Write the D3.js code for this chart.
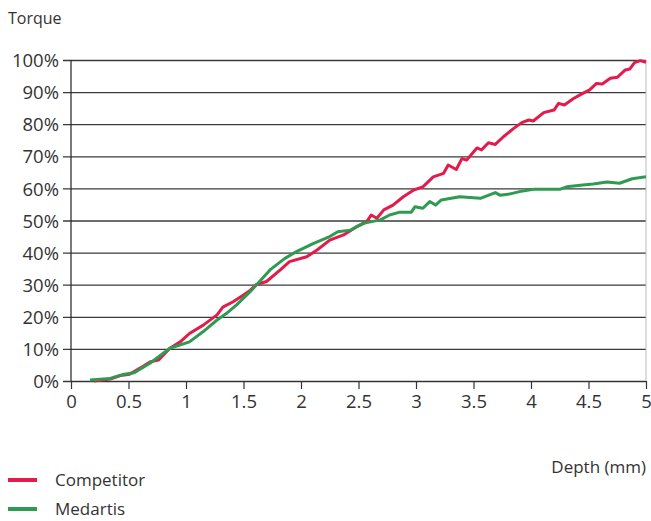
<!DOCTYPE html>
<html lang="en">
<head>
  <meta charset="utf-8">
  <title>Torque vs depth</title>
  <style>
    body { margin: 0; background: #fff; }
    svg text { font-family: "Open Sans", "Liberation Sans", sans-serif; fill: #333; }
  </style>
</head>
<body>
  <div id="chart-area"></div>

  <script src="https://cdn.jsdelivr.net/npm/d3@7/dist/d3.min.js"></script>
  <script>
    // values
    var competitorDepth = [0.2, 0.34, 0.43, 0.51, 0.6, 0.69, 0.76, 0.86, 0.95, 1.03, 1.15, 1.27, 1.32, 1.41, 1.5, 1.56,
      1.61, 1.7, 1.82, 1.9, 2.05, 2.14, 2.25, 2.37, 2.48, 2.57, 2.61, 2.66, 2.72, 2.8, 2.89, 2.98, 3.06, 3.15, 3.24, 3.28,
      3.35, 3.4, 3.44, 3.48, 3.53, 3.57, 3.63, 3.69, 3.76, 3.85, 3.92, 3.98, 4.02, 4.11, 4.2, 4.24, 4.29, 4.37, 4.45, 4.51,
      4.57, 4.62, 4.69, 4.75, 4.82, 4.86, 4.9, 4.95, 5.0];
    var competitorTorque = [0, 0.6, 1.7, 2.1, 4, 6, 6.5, 10.2, 12.2, 14.8, 17.4, 20.6, 23, 24.7, 26.8, 28.3,
      30, 31, 34.6, 37.2, 38.7, 40.8, 43.9, 45.5, 48, 49.6, 51.7, 50.7, 53.3, 54.8, 57.4, 59.5, 60.5, 63.6, 64.7, 67.3,
      65.9, 69.3, 68.8, 70.5, 72.6, 72, 74.2, 73.7, 76.1, 78.7, 80.5, 81.3, 81, 83.6, 84.4, 86.5, 86, 88, 89.6, 90.7,
      92.7, 92.5, 94.3, 94.6, 96.9, 97.2, 99.2, 99.8, 99.3];

    var medartisDepth = [0.165, 0.34, 0.45, 0.55, 0.69, 0.86, 1.03, 1.15, 1.27, 1.35, 1.44, 1.56, 1.64, 1.73, 1.86, 1.96,
      2.11, 2.25, 2.32, 2.43, 2.54, 2.69, 2.77, 2.86, 2.96, 2.99, 3.06, 3.12, 3.17, 3.22, 3.38, 3.56, 3.69, 3.73, 3.82, 3.9,
      4.02, 4.25, 4.31, 4.43, 4.54, 4.66, 4.77, 4.88, 5.0];
    var medartisTorque = [0.3, 0.8, 2, 2.6, 5.6, 10.2, 12.2, 15.4, 19, 21, 23.7, 27.9, 31, 34.6, 38.2, 40.3,
      42.9, 45, 46.5, 47, 49.1, 50.2, 51.7, 52.6, 52.6, 54.3, 53.8, 55.9, 54.8, 56.4, 57.4, 56.9, 58.7, 57.9, 58.3, 59,
      59.7, 59.7, 60.5, 61, 61.4, 62, 61.6, 63, 63.6];

    var yTicks = [0, 10, 20, 30, 40, 50, 60, 70, 80, 90, 100];
    var xTicks = [0, 0.5, 1, 1.5, 2, 2.5, 3, 3.5, 4, 4.5, 5];

    var series = [
      { name: "Competitor", color: "#e31b4b", depth: competitorDepth, torque: competitorTorque },
      { name: "Medartis", color: "#2f9a52", depth: medartisDepth, torque: medartisTorque }
    ];

    var svgWidth = 651;
    var svgHeight = 521;
    var margin = { top: 60, left: 71 };
    var width = 646 - margin.left;
    var height = 381 - margin.top;

    var svg = d3.select("#chart-area")
                .append("svg")
                .attr("width", svgWidth)
                .attr("height", svgHeight);

    var g = svg.append("g")
               .attr("transform", "translate(" + margin.left + "," + margin.top + ")");

    var x = d3.scaleLinear().domain([0, 5]).range([0, width]);
    var y = d3.scaleLinear().domain([0, 100]).range([height, 0]);

    // y axis with gridlines
    var yAxis = g.append("g")
                 .call(d3.axisLeft(y).tickValues(yTicks).tickSize(8).tickFormat((d) => d + "%"));
    yAxis.select(".domain").remove();
    yAxis.selectAll(".tick line")
         .attr("x2", width)
         .attr("x1", -8)
         .attr("stroke", "#3a3a3a")
         .attr("stroke-width", 1.3);
    yAxis.selectAll(".tick text")
         .attr("x", -12)
         .attr("dy", "0.36em")
         .style("font-size", "18.5px");

    // x axis
    var xAxis = g.append("g")
                 .attr("transform", "translate(0," + height + ")")
                 .call(d3.axisBottom(x).tickValues(xTicks).tickSize(8).tickFormat(d3.format("")));
    xAxis.select(".domain").attr("stroke", "#333");
    xAxis.selectAll(".tick line").attr("stroke", "#333").attr("stroke-width", 1.2);
    xAxis.selectAll(".tick text")
         .attr("y", 14)
         .style("font-size", "18.5px");

    // vertical axis line
    g.append("line")
     .attr("x1", 0).attr("x2", 0)
     .attr("y1", 0).attr("y2", height)
     .attr("stroke", "#222")
     .attr("stroke-width", 1.2);

    // right edge line
    g.append("line")
     .attr("x1", width).attr("x2", width)
     .attr("y1", y(100)).attr("y2", height)
     .attr("stroke", "#bbb")
     .attr("stroke-width", 1);

    var line = d3.line()
                 .x((d) => x(d[0]))
                 .y((d) => y(d[1]));

    series.forEach(function(s) {
      var pts = s.depth.map((d, i) => [d, s.torque[i]]);
      g.append("path")
       .datum(pts)
       .attr("fill", "none")
       .attr("stroke", s.color)
       .attr("stroke-width", 3)
       .attr("stroke-linejoin", "round")
       .attr("d", line);
    });

    // titles
    svg.append("text")
       .attr("x", 8).attr("y", 24)
       .style("font-size", "16px")
       .text("Torque");

    svg.append("text")
       .attr("x", 646).attr("y", 473)
       .attr("text-anchor", "end")
       .style("font-size", "17px")
       .text("Depth (mm)");

    // legend
    var legend = svg.append("g");
    series.forEach(function(s, i) {
      var ly = 480 + i * 29;
      legend.append("line")
            .attr("x1", 8).attr("x2", 37)
            .attr("y1", ly).attr("y2", ly)
            .attr("stroke", s.color)
            .attr("stroke-width", 4);
      legend.append("text")
            .attr("x", 55).attr("y", ly + 6)
            .style("font-size", "17px")
            .text(s.name);
    });
  </script>
</body>
</html>
